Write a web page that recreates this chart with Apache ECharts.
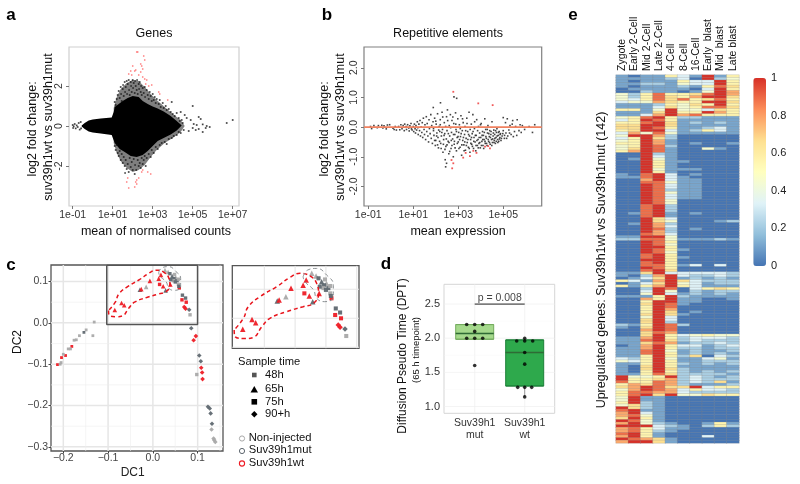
<!DOCTYPE html>
<html><head><meta charset="utf-8">
<style>html,body{margin:0;padding:0;background:#fff}#c{width:800px;height:484px}</style>
<script src="https://cdn.jsdelivr.net/npm/echarts@6/dist/echarts.min.js"></script></head>
<body><div id="c"></div>
<script>
// ---------- panel a: MA plot of genes (log10 mean, log2 fold change)
const aLogTicks=[-1,1,3,5,7];
const aBlobOutline=[[-0.55,0.02],[-0.4,0.15],[-0.2,0.27],[0,0.33],[0.4,0.38],[0.95,0.42],[1.05,0.7],[1.1,0.95],[1.3,1.1],[1.5,1.25],[1.75,1.4],[2.0,1.5],[2.3,1.45],[2.5,1.25],[2.75,1.1],[3.0,0.97],[3.25,0.87],[3.55,0.72],[3.9,0.5],[4.2,0.25],[4.45,0.03],[4.2,-0.22],[3.9,-0.42],[3.55,-0.6],[3.25,-0.75],[3.0,-1.0],[2.75,-1.25],[2.5,-1.45],[2.2,-1.55],[1.9,-1.5],[1.6,-1.3],[1.35,-1.15],[1.1,-0.85],[0.95,-0.45],[0.4,-0.38],[0,-0.33],[-0.2,-0.27],[-0.4,-0.15],[-0.55,-0.03]];
const aHaloOutline=[[1.05,0.9],[1.2,1.45],[1.4,1.85],[1.7,2.15],[2.0,2.3],[2.3,2.25],[2.6,1.95],[2.9,1.6],[3.2,1.3],[3.6,0.95],[4.0,0.6],[4.4,0.3],[4.6,0],[4.4,-0.3],[4.0,-0.6],[3.6,-0.85],[3.2,-1.2],[2.9,-1.55],[2.6,-1.95],[2.3,-2.2],[2.0,-2.3],[1.7,-2.1],[1.4,-1.75],[1.2,-1.35],[1.05,-0.85]];
const aBlack=[[-1,0.05],[-0.98,-0.1],[-0.9,0.1],[-0.85,-0.12],[-0.8,0.03],[-0.75,-0.05],[-0.95,-0.02],[-0.7,0.15],[-0.65,-0.18],[-0.6,0.2],[-0.58,-0.12],
[1.1,1.2],[1.15,1.05],[1.2,1.35],[1.25,1.55],[1.3,1.75],[1.35,1.4],[1.4,1.95],[1.42,1.6],[1.45,1.25],[1.5,1.85],[1.52,2.05],[1.55,1.5],[1.6,2.2],[1.62,1.7],[1.65,1.95],[1.7,2.25],[1.72,1.6],[1.75,2.1],[1.8,2.3],[1.82,1.8],[1.85,1.55],[1.9,2.2],[1.92,2.0],[1.95,1.7],[2.0,2.3],[2.02,1.9],[2.05,2.15],[2.1,1.65],[2.12,2.25],[2.15,2.0],[2.2,1.8],[2.22,2.3],[2.25,1.6],[2.3,2.1],[2.32,1.85],[2.35,2.2],[2.4,1.7],[2.42,2.0],[2.45,1.55],[2.5,1.9],[2.55,1.65],[2.6,1.95],[2.62,1.45],[2.7,1.8],[2.75,1.55],[2.8,1.35],[2.85,1.7],[2.9,1.5],[2.95,1.25],[3.0,1.6],[3.05,1.3],[3.1,1.45],[3.15,1.15],[3.2,1.35],[3.3,1.1],[3.35,1.3],[3.4,0.95],[3.5,1.15],[3.55,0.9],[3.65,1.0],[3.7,0.8],[3.8,0.85],[3.9,0.7],[3.95,1.2],[4.0,0.6],[4.1,0.5],[4.2,0.65],[4.3,0.4],[4.35,0.25],[4.4,0.7],[4.45,0.3],[4.5,0.15],[4.6,0.55],[4.7,0.4],[4.9,0.3],[5.0,1.0],[5.05,0.1],[5.2,0.05],[5.3,0.45],[5.4,0.35],[5.5,0.08],[5.7,0],[5.85,-0.05],[5.65,-0.1],[5.5,-0.3],[5.3,-0.15],[5.15,-0.2],[5.0,-0.1],[4.8,-0.25],[6.7,0.15],[7,0.3],
[1.1,-1.0],[1.15,-1.2],[1.2,-0.95],[1.25,-1.35],[1.3,-1.5],[1.35,-1.25],[1.4,-1.7],[1.45,-1.4],[1.5,-1.85],[1.55,-1.55],[1.6,-2.0],[1.62,-2.35],[1.65,-1.7],[1.7,-2.15],[1.75,-1.9],[1.8,-2.3],[1.85,-1.6],[1.9,-2.05],[1.95,-1.8],[2.0,-2.2],[2.05,-1.65],[2.1,-2.4],[2.12,-1.95],[2.18,-2.2],[2.25,-1.7],[2.3,-2.0],[2.35,-1.85],[2.4,-2.1],[2.45,-1.6],[2.5,-1.9],[2.55,-1.7],[2.6,-1.5],[2.65,-2.0],[2.7,-1.6],[2.8,-1.4],[2.9,-1.55],[2.95,-1.2],[3.05,-1.35],[3.15,-1.05],[3.25,-1.15],[3.35,-0.95],[3.45,-0.85],[3.6,-0.8],[3.7,-0.9],[3.8,-0.65],[3.95,-0.6],[4.05,-0.5],[4.2,-0.45],[4.3,-0.3],[4.4,-0.35],[4.55,-0.2]];
const aRed=[[2.2,3.7],[2.25,3.7],[2.55,3.5],[2.6,3.3],[2.0,3],[2.4,3.1],[2.45,3],[2.5,2.85],[1.9,2.75],[2.1,2.75],[2.15,2.8],[2.4,2.7],[1.8,2.6],[2.3,2.55],[1.95,2.55],[2.5,2.45],[2.6,2.35],[2.7,2.3],[2.65,2.1],[2.8,2],[2.95,2.05],[3.3,1.7],[3.35,1.6],[3.75,1.3],[1.75,-2.6],[1.8,-3.1],[2.1,-3.05],[2.15,-2.8],[2.2,-2.7],[2.3,-2.6],[2.2,-2.9],[2.45,-2.3],[2.75,-2.3],[2.9,-2.4],[2.5,-2.2],[1.7,-2.8]];
// ---------- panel b: MA plot of repeats
const bLogTicks=[-1,1,3,5];
const bBlack=[[-0.9,0.02],[-0.85,-0.05],[-0.75,0.05],[-0.6,-0.02],[-0.55,0.05],[-0.4,0.06],[-0.35,-0.03],[-0.3,0.04],[-0.15,0.07],[-0.2,-0.06],[-0.05,0.08],[0.1,-0.04],[0.15,-0.08],[0.2,0.02],[0.25,-0.1],[0.35,0.02],[0.4,-0.09],[0.45,0.08],[0.5,-0.05],[0.55,0.05],[0.6,-0.12],[0.62,0.1],[0.68,0.02],[0.7,-0.08],[0.75,0.08],[0.8,-0.03],[0.82,-0.13],[0.85,0.04],[0.9,0.12],[0.92,-0.06],[0.95,-0.1],[1,0.02],[1.02,-0.15],[1.05,0.1],[1.08,-0.05],[1.1,-0.2],[1.12,0.05],[1.15,-0.1],[1.18,0.18],[1.2,-0.02],[1.22,-0.25],[1.25,0.1],[1.28,-0.12],[1.3,0.22],[1.32,-0.3],[1.35,0],[1.38,-0.18],[1.4,0.15],[1.42,-0.35],[1.45,0.3],[1.48,-0.08],[1.5,-0.25],[1.52,0.08],[1.55,-0.42],[1.58,0.35],[1.6,-0.15],[1.62,0.12],[1.65,-0.3],[1.68,-0.5],[1.7,0.25],[1.72,-0.05],[1.75,-0.22],[1.78,0.42],[1.8,-0.38],[1.82,0.05],[1.85,-0.55],[1.88,0.18],[1.89,0.66],[1.9,-0.12],[1.92,-0.28],[1.95,0.3],[1.98,-0.62],[2,-0.45],[2.02,0.1],[2.05,-0.2],[2.08,0.45],[2.1,-0.35],[2.12,-0.7],[2.15,0.02],[2.18,-0.15],[2.2,0.25],[2.21,0.82],[2.22,-0.55],[2.25,-0.3],[2.28,0.5],[2.3,-0.08],[2.32,-0.85],[2.35,-0.42],[2.38,0.15],[2.4,-0.22],[2.42,-1.1],[2.44,-1.34],[2.45,-0.65],[2.48,0.35],[2.48,-1.22],[2.5,-0.12],[2.52,0.58],[2.55,-0.48],[2.58,-0.9],[2.6,0.05],[2.62,-0.3],[2.65,0.42],[2.68,-0.72],[2.7,-0.18],[2.72,0.22],[2.75,-0.4],[2.78,-1.0],[2.8,0.12],[2.81,1.02],[2.82,-0.58],[2.85,-0.25],[2.88,0.48],[2.9,-0.08],[2.92,-0.8],[2.93,0.97],[2.95,-0.35],[2.98,0.28],[3,-0.5],[3.02,-0.18],[3.05,0.08],[3.08,-0.68],[3.1,-0.32],[3.12,0.38],[3.15,-0.95],[3.18,-0.12],[3.2,-0.45],[3.22,0.15],[3.25,-0.6],[3.28,-0.25],[3.3,0.02],[3.32,-0.78],[3.35,-0.38],[3.38,0.3],[3.4,-0.52],[3.42,-0.15],[3.45,-0.68],[3.48,0.5],[3.5,-0.3],[3.52,-0.85],[3.55,-0.42],[3.58,0.1],[3.6,-0.58],[3.62,-0.22],[3.65,0.42],[3.68,-0.72],[3.7,-0.35],[3.72,-0.05],[3.75,-0.5],[3.78,-0.8],[3.8,-0.28],[3.82,0.25],[3.85,-0.62],[3.88,-0.42],[3.9,0.02],[3.92,-0.55],[3.95,-0.2],[3.98,-0.7],[4,-0.35],[4.02,0.12],[4.05,-0.48],[4.08,-0.15],[4.1,-0.62],[4.12,-0.28],[4.15,-0.42],[4.18,0.28],[4.2,-0.55],[4.22,-0.08],[4.25,-0.38],[4.28,-0.62],[4.3,-0.2],[4.32,0.05],[4.35,-0.48],[4.38,-0.32],[4.4,-0.12],[4.42,-0.58],[4.45,-0.25],[4.48,-0.42],[4.5,0.18],[4.52,-0.52],[4.55,-0.3],[4.58,-0.1],[4.6,-0.45],[4.62,-0.25],[4.65,-0.55],[4.68,-0.35],[4.7,-0.18],[4.72,-0.05],[4.75,-0.42],[4.78,-0.28],[4.8,-0.48],[4.82,-0.15],[4.85,-0.35],[4.88,-0.22],[4.9,-0.45],[4.95,-0.3],[5,-0.12],[5,0.32],[5.05,-0.38],[5.1,0.15],[5.12,-0.2],[5.18,0.28],[5.2,-0.3],[5.25,-0.1],[5.3,0.05],[5.35,-0.25],[5.4,0.1],[5.42,0.22],[5.5,-0.15],[5.55,0.02],[5.6,-0.28],[5.62,0.25],[5.7,-0.12],[5.75,0.08],[5.8,-0.18],[5.85,0.05],[5.95,-0.08],[6.15,0.02],[6.3,-0.18],[6.4,0.08],
[1.9,-0.05],[1.95,-0.45],[2.0,0.2],[2.04,-0.3],[2.08,-0.6],[2.13,-0.1],[2.17,-0.48],[2.2,0.08],[2.24,-0.72],[2.27,-0.18],[2.31,0.34],[2.34,-0.58],[2.37,-0.28],[2.41,-0.75],[2.44,0.02],[2.47,-0.4],[2.5,-0.6],[2.53,0.22],[2.56,-0.22],[2.59,-0.52],[2.62,-0.82],[2.66,-0.02],[2.69,-0.45],[2.72,-0.62],[2.76,0.34],[2.79,-0.25],[2.83,-0.48],[2.86,-0.7],[2.89,0.1],[2.92,-0.15],[2.96,-0.55],[2.99,-0.32],[3.03,-0.72],[3.06,-0.42],[3.09,-0.05],[3.13,-0.22],[3.16,-0.6],[3.19,0.28],[3.23,-0.35],[3.26,-0.8],[3.29,-0.5],[3.33,-0.12],[3.36,-0.62],[3.39,0.12],[3.43,-0.42],[3.46,-0.25],[3.49,-0.72],[3.53,-0.08],[3.56,-0.55],[3.59,-0.35],[3.63,-0.65],[3.66,-0.15],[3.69,-0.48],[3.73,0.18],[3.76,-0.28],[3.79,-0.62],[3.83,-0.45],[3.86,-0.12],[3.89,-0.7],[3.93,-0.35],[3.96,-0.52],[3.99,0.08],[4.03,-0.62],[4.06,-0.28],[4.09,-0.42],[4.13,-0.72],[4.16,-0.18],[4.19,-0.48],[4.23,-0.32],[4.26,-0.55],[4.29,-0.08],[4.33,-0.42],[4.36,-0.22],[4.39,-0.52],[4.43,-0.35],[4.46,-0.15],[4.49,-0.62],[4.53,-0.4],[4.56,-0.2],[4.59,-0.52],[4.63,-0.38],[4.66,-0.12],[4.69,-0.48],[4.73,-0.3],[4.76,-0.52],[4.79,-0.18],[4.83,-0.4],[4.86,-0.25],[4.92,-0.38],[4.98,-0.22],[5.06,-0.28],[5.15,-0.38],[5.28,-0.2],[5.45,-0.32]];
const bRed=[[2.78,1.19],[3.89,0.8],[4.53,0.74],[2.7,-1.11],[2.73,-1.39],[2.78,-1.22],[3.22,-1.03],[3.33,-0.87],[3.52,-0.98],[3.67,-0.8],[3.81,-0.87],[4.19,-0.66],[4.41,-0.72],[4.33,-0.64]];
// ---------- panel c: diffusion map [DC1, DC2, group] with group 0 non-injected, 1 mut, 2 wt
const groupNames=['Non-injected','Suv39h1mut','Suv39h1wt'];
const t48=[[-0.131,0.002,0],[-0.134,-0.031,0],[-0.149,-0.017,0],[-0.154,-0.023,1],[-0.164,-0.031,0],[-0.171,-0.041,0],[-0.176,-0.042,0],[-0.181,-0.057,2],[-0.189,-0.063,0],[-0.184,-0.063,0],[-0.195,-0.079,2],[-0.2,-0.076,0],[-0.204,-0.084,2],[-0.205,-0.096,0],[-0.213,-0.101,2],[-0.207,-0.1,0]];
const t65=[[-0.085,0.031,2],[-0.07,0.048,2],[-0.064,0.0425,2],[-0.0067,0.1017,2],[-0.029,0.08,1],[-0.026,0.0816,2],[-0.015,0.087,0],[0.013,0.107,2],[0.018,0.116,2],[0.023,0.0885,2],[0.0285,0.0787,1],[0.039,0.093,2],[0.034,0.123,0],[0.027,0.1276,0],[0.043,0.113,1],[0.051,0.11,0]];
const t75=[[0.015,0.093,2],[0.059,0.0845,2],[0.065,0.0557,2],[0.0745,0.05,2],[0.066,0.067,1],[0.073,0.06,1],[0.083,0.0195,0],[0.098,-0.125,0],[0.047,0.107,1],[0.046,0.102,0],[0.054,0.102,1],[0.057,0.093,0],[0.04,0.1045,1],[0.05,0.099,1],[0.058,0.0885,1],[0.0485,0.117,0],[0.038,0.119,1],[0.057,0.1057,0]];
const t90=[[0.07,0.0385,2],[0.073,0.0344,2],[0.081,0.0316,1],[0.0857,-0.013,1],[0.096,-0.032,2],[0.091,-0.042,2],[0.1036,-0.079,1],[0.107,-0.093,1],[0.108,-0.1085,2],[0.11,-0.12,2],[0.111,-0.136,2],[0.123,-0.203,1],[0.127,-0.207,1],[0.129,-0.219,1],[0.132,-0.244,1],[0.131,-0.258,0],[0.1356,-0.28,0],[0.137,-0.2836,0],[0.1394,-0.288,0]];
const redLoop=[[-0.099,0.03],[-0.098,0.0195],[-0.081,0.015],[-0.068,0.017],[-0.054,0.0355],[-0.041,0.05],[-0.014,0.0614],[0.013,0.07],[0.03,0.076],[0.038,0.093],[0.035,0.11],[0.024,0.123],[0.008,0.1276],[-0.008,0.1207],[-0.03,0.1045],[-0.057,0.0873],[-0.076,0.07],[-0.084,0.05],[-0.099,0.03]];
const greyLoop=[[0.013,0.1217],[0.02,0.133],[0.035,0.136],[0.051,0.1247],[0.062,0.107],[0.062,0.0873],[0.048,0.0787],[0.035,0.0845],[0.03,0.0988],[0.016,0.113],[0.013,0.1217]];
const zoomBox=[[-0.103,0.1395],[0.0998,0.1395],[0.0998,-0.004],[-0.103,-0.004],[-0.103,0.1395]];
// ---------- panel d: DPT at 65 h
const dLabels=['Suv39h1\nmut','Suv39h1\nwt'];
const dBoxes=[[1.985,1.985,2.07,2.2,2.2],[1.3,1.3,1.79,1.975,1.975]];
const dWhiskers=[[1,1.975],[1,2.0],[null,null],[1,1.3],[1,1.14]];
const dMedians=[[-0.38,2.07],[0.38,2.07],[null,null],[0.62,1.79],[1.38,1.79]];
const dPoints=[[-0.16,2.2],[0,2.2],[0.16,2.2],[0,2.1],[-0.16,2.0],[0,2.0],[0.16,2.0],[0,1.6],[1,2.0],[0.84,1.96],[1,1.96],[1.16,1.96],[1,1.79],[1,1.62],[0.86,1.28],[1,1.28],[1.14,1.28],[1,1.14]];
// ---------- panel e: heat map, one digit per cell (digit/9 = scaled expression)
const stages=['Zygote','Early 2-Cell','Mid 2-Cell','Late 2-Cell','4-Cell','8-Cell','16-Cell','Early  blast','Mid  blast','Late blast'];
const heatRows=['1011531915','1111230924','1011153395','1122143395','1011121586','0111110395','0021101497',
'4258556897','4258657996','4358685685','3447655996','1112546595','1113645886','5514944365','1116955975','1137978555',
'4589522111','3598511111','5589612121','6699611111','6698511231','5699312531','3748411111','4997200000','3596200000','4597100000','5597101001','4598200000','4698100410','5798100000',
'0092100000','0093100000','0194100000','0095110000','0095100000','0095100000','0094111000','0095100000',
'1089301000','1189310000','0079311000','0088411000','0098311000','0098311000','0098211000','0098411000','0098311000','0098311000','0098400000','0098400000','0089200000',
'0089200000','0089200000','0189101000','0089100000','0096300000','0096400012','0197200000','0097300000','0098201000','0097200000','0087300000','1199400000','2288411121',
'0098500000','0098400000','0099500000','0098510000','0098400000','0089500000','0089510000','0099500000','0089500000','0088513030','0098500000','0089600000',
'1169333332','1027932232','0136912121','5317963222','0136943122','5157953111','0029803565','0039402122','0049312121','1115921111',
'0075911001','0059911000','0069810000','0059800000','0059700000','0059601000','0069610000','0049300000','0069300000','0069200000','2159820000','1069800000','0079800000','0068700000',
'0069534544','1179523332','1189623222','1168712232','0179533123','1179522122','1189412112','1189512121','1159526032','3259411341','4359511222','1159521212','1069511111','1069621111','1059521212','1158622221',
'9445923212','9556723222','8558723261','5768721112','6798669355','4798735332','5887732222','5896944655',
'4911000000','4911000000','5921000000','4621000000','9621000000','8911000000','7931000000','7841000000','6951000000','9841000000','7942100151','9993210252','7853110000','7852100000','8951000000','7951000300','9876100000','7996100000'];
const heatColors=['#4575B4','#91BFDB','#E0F3F8','#FFFFBF','#FEE090','#FC8D59','#D73027'];
const barTicks=[0,0.2,0.4,0.6,0.8,1];

const FONT='"Liberation Sans",Arial,sans-serif';
const heatData=[];
heatRows.forEach((r,i)=>{for(let c=0;c<10;c++)heatData.push([c,i,+r[c]/9]);});
const rowNames=heatRows.map((_,i)=>String(i));
const grpColor=['#a9a9a9','#5f6870','#ee1c25'];

function powLabel(v){const a=Math.abs(v);return '1e'+(v<0?'-':'+')+(a<10?'0':'')+a;}
function maX(i,ticks,min,max){return {gridIndex:i,type:'value',min,max,splitLine:{show:false},axisLine:{show:false,onZero:false},
 axisTick:{customValues:ticks,length:3,lineStyle:{color:'#777'}},
 axisLabel:{customValues:ticks,formatter:powLabel,fontFamily:FONT,fontSize:10.5,color:'#333',margin:4,hideOverlap:false}};}
function maY(i,min,max,ticks,fmt){return {gridIndex:i,type:'value',min,max,splitLine:{show:false},axisLine:{show:false,onZero:false},
 axisTick:{customValues:ticks,length:3,lineStyle:{color:'#777'}},
 axisLabel:{customValues:ticks,rotate:90,formatter:fmt,fontFamily:FONT,fontSize:10.5,color:'#333',margin:4,hideOverlap:false}};}
function dcX(i,min,max,show){return {gridIndex:i,type:'value',min,max,
 axisLine:{show:false,onZero:false},axisTick:{show:show,customValues:[-0.2,-0.1,0,0.1],length:2.5,lineStyle:{color:'#444'}},
 axisLabel:{show:show,customValues:[-0.2,-0.1,0,0.1],formatter:v=>v.toFixed(1).replace('-','\u2212'),fontFamily:FONT,fontSize:10.5,color:'#444',margin:2},
 splitLine:{show:false}};}
function dcY(i,min,max,show){return {gridIndex:i,type:'value',min,max,
 axisLine:{show:false,onZero:false},axisTick:{show:show,customValues:[-0.3,-0.2,-0.1,0,0.1],length:2.5,lineStyle:{color:'#444'}},
 axisLabel:{show:show,customValues:[-0.3,-0.2,-0.1,0,0.1],formatter:v=>v.toFixed(1).replace('-','\u2212'),fontFamily:FONT,fontSize:10.5,color:'#444',margin:3},
 splitLine:{show:false}};}
const mkPts=(x,y)=>({type:'line',xAxisIndex:x,yAxisIndex:y,symbol:'none',silent:true,animation:false});
function gridLines(ix,iy,xs,ys,x0,x1,y0,y1,w,col){
 const d=[];xs.forEach(v=>{d.push([v,y0],[v,y1],[null,null]);});ys.forEach(v=>{d.push([x0,v],[x1,v],[null,null]);});
 return Object.assign(mkPts(ix,iy),{data:d,connectNulls:false,z:1,lineStyle:{color:col,width:w}});}
function dcSeries(ix,scale){
 const shapes=[[t48,'rect',2.8*scale],[t65,'triangle',4.6*scale],[t75,'rect',3.4*scale],[t90,'diamond',4.6*scale]];
 const out=shapes.map(s=>({type:'scatter',xAxisIndex:ix,yAxisIndex:ix,data:s[0],symbol:s[1],symbolSize:s[2],silent:true,animation:false,z:5,
  itemStyle:{color:p=>grpColor[p.data[2]],opacity:0.95}}));
 const loop=(d,c,w)=>Object.assign(mkPts(ix,ix),{data:d,smooth:0.5,z:6,lineStyle:{color:c,width:w,type:[4,3]}});
 out.push(loop(redLoop,'#e8141c',1.5));out.push(loop(greyLoop,'#8a8f92',1));
 return out;}
const polyItem=(pts,fill,op)=>(p,api)=>p.dataIndex?null:{type:'polygon',shape:{points:pts.map(q=>api.coord(q))},style:{fill,opacity:op}};

const series=[
 {type:'custom',xAxisIndex:0,yAxisIndex:0,data:aHaloOutline,silent:true,animation:false,z:2,encode:{x:0,y:1},renderItem:polyItem(aHaloOutline,'#000',0.5)},
 {type:'custom',xAxisIndex:0,yAxisIndex:0,data:aBlobOutline,silent:true,animation:false,z:3,encode:{x:0,y:1},renderItem:polyItem(aBlobOutline,'#000',1)},
 {type:'scatter',xAxisIndex:0,yAxisIndex:0,data:aBlack,symbol:'rect',symbolSize:1.7,itemStyle:{color:'#111'},silent:true,animation:false,z:3},
 {type:'scatter',xAxisIndex:0,yAxisIndex:0,data:aRed,symbol:'rect',symbolSize:1.5,itemStyle:{color:'#ff6060'},silent:true,animation:false,z:4},
 {type:'scatter',xAxisIndex:1,yAxisIndex:1,data:bBlack,symbol:'rect',symbolSize:1.6,itemStyle:{color:'#222',opacity:0.85},silent:true,animation:false,z:3},
 {type:'scatter',xAxisIndex:1,yAxisIndex:1,data:bRed,symbol:'rect',symbolSize:1.8,itemStyle:{color:'#ee3030'},silent:true,animation:false,z:4},
 Object.assign(mkPts(1,1),{data:[[-1.19,0],[6.71,0]],z:5,lineStyle:{color:'#f0815f',width:1.6}}),
 gridLines(2,2,[-0.2,-0.1,0,0.1],[-0.3,-0.2,-0.1,0,0.1],-0.2275,0.1566,-0.31,0.14,1.5,'#e6e6e6'),
 gridLines(2,2,[-0.15,-0.05,0.05,0.15],[-0.25,-0.15,-0.05,0.05],-0.2275,0.1566,-0.31,0.14,0.6,'#eeeeee'),
 ...dcSeries(2,1),
 Object.assign(mkPts(2,2),{data:zoomBox,z:7,lineStyle:{color:'#555',width:1.5}}),
 gridLines(3,3,[-0.05,0,0.05,0.1],[0,0.05,0.1],-0.102,0.1037,-0.0017,0.1407,1.1,'#e6e6e6'),
 ...dcSeries(3,1.2),
 gridLines(4,4,[0,1],[1,1.5,2,2.5],-0.614,1.6,0.9,2.79,0.7,'#efefef'),
 gridLines(4,4,[],[1.25,1.75,2.25,2.75],-0.614,1.6,0.9,2.79,0.4,'#f5f5f5'),
 Object.assign(mkPts(4,4),{data:dWhiskers,connectNulls:false,z:2,lineStyle:{color:'#999',width:1}}),
 {type:'boxplot',xAxisIndex:4,yAxisIndex:4,z:3,silent:true,animation:false,boxWidth:[38,38],
  data:[{value:[0,...dBoxes[0]],itemStyle:{color:'#a5d98c',borderColor:'#74ab5e',borderWidth:1}},
        {value:[1,...dBoxes[1]],itemStyle:{color:'#2ea94c',borderColor:'#1d8039',borderWidth:1}}]},
 Object.assign(mkPts(4,4),{data:dMedians,connectNulls:false,z:4,lineStyle:{color:'#2f6b35',width:1.4}}),
 {type:'scatter',xAxisIndex:4,yAxisIndex:4,data:dPoints,symbolSize:3.6,itemStyle:{color:'#000'},silent:true,animation:false,z:5},
 Object.assign(mkPts(4,4),{data:[[0,2.5],[1,2.5]],z:5,lineStyle:{color:'#222',width:1}}),
 {type:'scatter',xAxisIndex:4,yAxisIndex:4,data:[[0.5,2.5]],symbolSize:0,silent:true,animation:false,z:5,
  label:{show:true,position:'top',distance:0,formatter:'p = 0.008',fontFamily:FONT,fontSize:10.5,color:'#111'}},
 {type:'heatmap',xAxisIndex:5,yAxisIndex:5,data:heatData,silent:true,animation:false,progressive:0,itemStyle:{borderColor:'#8b8b8b',borderWidth:0.25}}
];

const axT=(s,x,y,o)=>Object.assign({type:'text',x,y,silent:true,style:Object.assign({text:s,fontFamily:FONT,fontSize:11,fill:'#111',textAlign:'center',textVerticalAlign:'middle'},o||{})},{});
const rot=(s,x,y,size)=>({type:'text',x,y,rotation:Math.PI/2,silent:true,style:{text:s,fontFamily:FONT,fontSize:size,fill:'#111',textAlign:'center',textVerticalAlign:'middle'}});
const bold=(s,x,y)=>axT(s,x,y,{fontWeight:'bold',fontSize:17,fill:'#000'});
const lg=(s,x,y)=>axT(s,x,y,{textAlign:'left',fontSize:11.2});
const graphics=[
 bold('a',11,15),bold('b',327,15),bold('c',11,265),bold('d',386,264),bold('e',573,15),
 axT('Genes',154,34,{fontSize:12.5}),axT('mean of normalised counts',156,232,{fontSize:12.5}),
 rot('log2 fold change:',33,129,12.5),rot('suv39h1wt vs suv39h1mut',49,127,12.5),
 axT('Repetitive elements',448,34,{fontSize:12.5}),axT('mean expression',458,232,{fontSize:12.5}),
 rot('log2 fold change:',325,129,12.5),rot('suv39h1wt vs suv39h1mut',341,127,12.5),
 axT('DC1',132.7,473,{fontSize:12,fill:'#222'}),rot('DC2',18,342,12),
 lg('Sample time',238,362),lg('48h',265,375),lg('65h',265,389),lg('75h',265,401.7),lg('90+h',265,414.3),
 lg(groupNames[0],248.7,437.7),lg(groupNames[1],248.7,450.3),lg(groupNames[2],248.7,462.7),
 {type:'rect',shape:{x:252,y:372.7,width:4.6,height:4.6},style:{fill:'#555'},silent:true},
 {type:'polygon',shape:{points:[[250.5,392.5],[258,392.5],[254.3,386]]},style:{fill:'#000'},silent:true},
 {type:'rect',shape:{x:251.5,y:399,width:5.6,height:5.6},style:{fill:'#000'},silent:true},
 {type:'polygon',shape:{points:[[254.3,411],[257.5,414.3],[254.3,417.6],[251.1,414.3]]},style:{fill:'#000'},silent:true},
 {type:'circle',shape:{cx:242,cy:438.5,r:2.6},style:{fill:'none',stroke:grpColor[0],lineWidth:1},silent:true},
 {type:'circle',shape:{cx:242,cy:451,r:2.6},style:{fill:'none',stroke:grpColor[1],lineWidth:1},silent:true},
 {type:'circle',shape:{cx:242,cy:463.5,r:2.6},style:{fill:'none',stroke:grpColor[2],lineWidth:1.1},silent:true},
 rot('Diffusion Pseudo Time (DPT)',403,356,12),rot('(65 h timepoint)',416,350,9.5),
 rot('Upregulated genes: Suv39h1wt vs Suv39h1mut (142)',601.7,260,12.5)
];

const option={animation:false,backgroundColor:'#fff',
 grid:[
  {left:69,top:47,width:170,height:159,show:true,borderColor:'#cfcfcf',borderWidth:1.2,backgroundColor:'#fff'},
  {left:364,top:47,width:177.7,height:159,show:true,borderColor:'#808080',borderWidth:1.2},
  {left:51,top:265,width:172,height:186,show:true,borderColor:'#555',borderWidth:1.3},
  {left:232.3,top:265.7,width:126.7,height:82.6,show:true,borderColor:'#555',borderWidth:1.3},
  {left:444,top:284.3,width:110.7,height:129,show:true,borderColor:'#d5d5d5',borderWidth:1},
  {left:616,top:75,width:123,height:368},
  {left:753.3,top:78,width:12.7,height:188}
 ],
 xAxis:[
  maX(0,aLogTicks,-1.185,7.315),maX(1,bLogTicks,-1.19,6.71),
  dcX(2,-0.2275,0.1566,true),dcX(3,-0.102,0.1037,false),
  {gridIndex:4,type:'value',min:-0.614,max:1.6,splitLine:{show:false},axisLine:{show:false,onZero:false},axisTick:{show:false},
   axisLabel:{customValues:[0,1],formatter:v=>dLabels[Math.round(v)],fontFamily:FONT,fontSize:10.5,lineHeight:12,color:'#333',margin:4}},
  {gridIndex:5,type:'category',data:stages,position:'top',axisLine:{show:false},axisTick:{show:false},splitLine:{show:false},
   axisLabel:{interval:0,rotate:-90,fontFamily:FONT,fontSize:10.5,color:'#111',margin:4}},
  {gridIndex:6,type:'value',show:false,min:0,max:1}
 ],
 yAxis:[
  maY(0,-4,3.95,[-2,0,2],v=>String(v)),
  maY(1,-2.66,2.7,[-2,-1,0,1,2],v=>v.toFixed(1)),
  dcY(2,-0.31,0.14,true),dcY(3,-0.0017,0.1407,false),
  {gridIndex:4,type:'value',min:0.9,max:2.79,splitLine:{show:false},axisLine:{show:false,onZero:false},axisTick:{show:false},
   axisLabel:{customValues:[1,1.5,2,2.5],formatter:v=>v.toFixed(1),fontFamily:FONT,fontSize:11,color:'#333',margin:4}},
  {gridIndex:5,type:'category',data:rowNames,inverse:true,show:false},
  {gridIndex:6,type:'value',position:'right',min:0,max:1,interval:0.2,splitLine:{show:false},axisLine:{show:false},axisTick:{show:false},
   axisLabel:{customValues:barTicks,formatter:v=>String(+v.toFixed(1)),fontFamily:FONT,fontSize:11,color:'#222',margin:5}}
 ],
 visualMap:{type:'continuous',seriesIndex:series.findIndex(s=>s.type==='heatmap'),min:0,max:1,calculable:false,realtime:false,hoverLink:false,
  inRange:{color:heatColors},left:753.3,top:78,itemWidth:12.7,itemHeight:188,padding:0,text:null,textStyle:{fontSize:0}},
 series,graphic:{elements:graphics}
};
const chart=echarts.init(document.getElementById('c'),null,{renderer:'canvas'});
chart.setOption(option);
</script></body></html>
